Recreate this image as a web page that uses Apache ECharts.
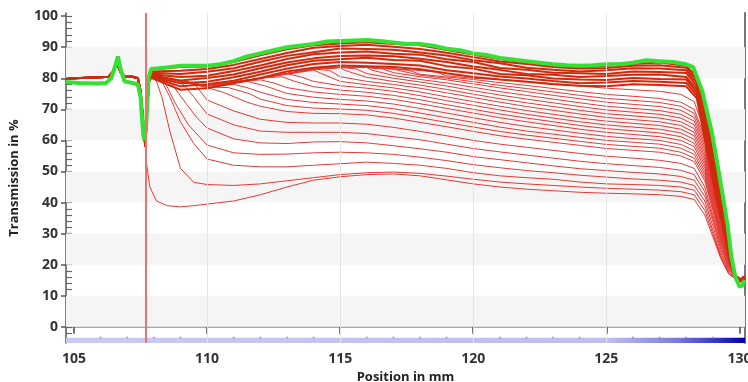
<!DOCTYPE html>
<html><head><meta charset="utf-8">
<script src="https://cdn.jsdelivr.net/npm/echarts@6/dist/echarts.min.js"></script>
<style>html,body{margin:0;padding:0;background:#fff}#c{width:748px;height:382px}</style>
</head><body><div id="c"></div>
<script>
// ---- axis ticks ----
const xTicks = [105,110,115,120,125,130];
const xMinorDots = [106,107,108,109,111,112,113,114,116,117,118,119,121,122,123,124,126,127,128,129];
const xGridLines = [110,115,120,125];
const yTicks = [0,10,20,30,40,50,60,70,80,90,100];
const yMinorTicks = [-4,-2,0,2,4,6,8,10,12,14,16,18,20,22,24,26,28,30,32,34,36,38,40,42,44,46,48,50,52,54,56,58,60,62,64,66,68,70,72,74,76,78,80,82,84,86,88,90,92,94,96,98,100];
const grayBands = [[0,10],[20,30],[40,50],[60,70],[80,90]];
const markerX = 107.68;

// ---- shared lead-in (left part of all red profiles) ----
const leadRed = [[104.7,79.8],[105.0,80.0],[105.5,80.2],[106.0,80.3],[106.3,80.5],[106.45,82],[106.6,85],[106.75,82],[106.9,80.5],[107.2,80.5],[107.4,80.0],[107.5,76],[107.6,66],[107.68,58]];
const leadBack = [[107.75,70],[107.82,79]];

// ---- final profile (green) ----
const greenCurve = [[104.7,78.8],[105.2,78.5],[105.8,78.3],[106.2,78.5],[106.4,80],[106.55,84],[106.65,87],[106.75,83],[106.9,79],[107.2,78.5],[107.4,78],[107.5,74],[107.6,62],[107.65,60],[107.72,66],[107.8,80],[107.9,83],
 [108.5,83.5],[109,84],[110,84],[110.5,84.5],[111,85.5],[111.5,87],[112,88],[112.5,89],[113,90],[114,91],[114.5,91.8],[115,92],[116,92.3],[116.5,92],[117,91.5],[117.5,91],[118,91],[118.5,90.5],[119,89.5],[119.5,89],[120,88],[120.5,87.5],[121,86.5],[121.5,86],[122,85.5],[122.5,85],[123,84.5],[123.5,84.2],[124,84],[124.5,84.2],[125,84.5],[125.5,84.5],[126,85],[126.5,85.8],[127,85.5],[127.5,85.2],[128,84.5],[128.26,83.6],[128.6,76],[128.97,62.4],[129.2,51],[129.4,41],[129.55,33],[129.7,22.5],[129.85,16],[130.0,13],[130.1,13.2],[130.2,15]];

// ---- dense upper band of profiles ----
const bandX = [107.9,109,110,111,112,113,114,115,116,117,118,119,120,121,122,123,124,125,126,127,128];
const band1 = [82.8,83.6,83.8,85.2,87.4,89.3,90.6,91.2,91.6,91.0,90.6,89.1,87.6,86.2,85.1,84.2,83.6,84.0,84.6,85.1,84.0];
const band2 = [82.2,82.4,83.0,84.3,86.2,88.1,89.8,90.4,90.8,90.1,89.4,88.2,86.8,85.4,84.6,83.6,83.1,83.3,84.0,84.2,83.4];
const band3 = [81.8,81.4,82.1,83.2,85.3,87.2,88.4,89.6,89.4,89.2,88.3,87.3,85.8,84.8,83.4,82.7,82.2,82.6,83.2,83.1,82.6];
const band4 = [81.3,80.4,80.8,82.3,84.1,86.2,87.7,88.3,88.6,87.9,87.6,86.1,85.2,83.3,82.7,81.8,81.6,81.4,82.2,82.0,81.7];
const band5 = [81.0,79.3,80.1,81.2,83.2,85.1,86.4,87.2,87.3,87.1,86.3,85.2,83.8,82.7,81.4,81.1,80.4,80.7,81.1,81.2,80.4];
const band6 = [80.6,78.4,78.9,80.3,82.1,84.2,85.6,86.1,86.6,85.9,85.6,83.9,83.1,81.4,81.0,79.9,79.6,79.4,80.1,79.8,79.6];
const band7 = [80.4,77.4,78.1,79.2,81.2,83.1,84.6,85.2,85.0,84.6,84.1,82.6,81.6,80.6,79.9,79.1,78.4,78.6,79.1,78.9,78.5];
const band8 = [80.1,76.3,76.8,78.4,80.1,82.2,83.4,84.1,83.9,83.6,82.9,81.6,80.4,79.6,78.9,78.1,77.6,77.4,78.1,77.8,77.4];
const dropX = [128.4,128.8,129.1,129.4,129.65,129.85,130.05,130.2];
const bandDrop1 = [80.5,66.5,53,38.5,24.5,16.5,14.5,15.5];
const bandDrop2 = [79.5,65,51.5,37.5,23.5,16.3,14.6,15.6];
const bandDrop3 = [78.5,63.5,50,36.5,23,16.2,14.8,15.8];
const bandDrop4 = [77.5,62,48.5,35.5,22.5,16.1,14.9,15.9];
const bandDrop5 = [76.5,60.5,47,34.5,22,16,15,16];
const bandDrop6 = [75.5,59,45.5,33.5,21.5,16,15.1,16.1];
const bandDrop7 = [74.5,57.5,44,32.5,21,15.9,15.2,16.2];
const bandDrop8 = [73.5,56,42.5,31.5,20.5,15.9,15.3,16.3];

// ---- sedimenting profiles (thin red) ----
const drop1 = [[107.72,53],[107.85,45],[108.1,40.5],[108.5,39],[109,38.6],[109.5,39],[110,39.5],[111,40.5],[112,42.5],[113,45],[114,47.2],[115,48.3],[116,49],[117,49.2],[118,48.6],[119,47.3],[120,46],[121,45],[122,44.3],[123,43.8],[124,43.3],[125,43],[126,42.8],[127,42.5],[127.8,42],[128.3,41],[128.7,36],[129,29],[129.3,22],[129.6,17],[129.85,15.5],[130.05,15.5],[130.2,16.5]];
const drop2 = [[107.9,81],[108.1,79],[108.3,74],[108.6,63],[109,51],[109.5,46.5],[110,45.8],[111,45.5],[112,46],[113,47],[114,48],[115,49],[116,49.6],[117,49.8],[118,49.4],[119,48.5],[120,47.5],[121,46.6],[122,46],[123,45.5],[124,45],[125,44.6],[126,44.3],[127,44],[127.8,43.5],[128.3,42.5],[128.7,37.5],[129,30],[129.3,22.5],[129.6,17],[129.85,15.5],[130.05,15.5],[130.2,16.5]];
const drop3 = [[107.9,81],[108.3,79],[108.6,74],[109,66],[109.5,59],[110,54],[111,52],[112,51.5],[113,51.5],[114,52],[115,52.5],[116,53],[117,52.6],[118,52],[119,51],[120,49.6],[121,48.6],[122,48],[123,47.5],[124,46.6],[125,46],[126,45.8],[127,45.5],[127.8,45],[128.3,44],[128.7,39],[129,31],[129.3,23],[129.6,17.5],[129.85,15.5],[130.05,15.5],[130.2,16.5]];
const drop4 = [[107.9,81],[108.4,79],[108.8,72],[109.3,65],[110,58.5],[111,56],[112,55.5],[113,55.6],[114,56],[115,56.2],[116,56],[117,55.5],[118,54.6],[119,53.5],[120,52.2],[121,51.2],[122,50.3],[123,49.6],[124,48.8],[125,48.2],[126,47.6],[127,47.2],[127.8,46.6],[128.3,45.5],[128.7,40.5],[129,32.5],[129.3,24],[129.6,18],[129.85,15.6],[130.05,15.5],[130.2,16.5]];
const drop5 = [[107.9,81],[108.6,79],[109.2,72],[109.6,67.5],[110,64],[111,60.5],[112,59.2],[113,59],[114,59.5],[115,59.6],[116,59.2],[117,58.3],[118,57.3],[119,56.2],[120,54.8],[121,53.8],[122,52.8],[123,51.8],[124,50.9],[125,50.3],[126,49.7],[127,49.2],[127.8,48.4],[128.3,47.2],[128.7,42],[129,34],[129.3,25],[129.6,18.5],[129.85,15.7],[130.05,15.5],[130.2,16.5]];
const drop6 = [[107.9,81],[109,79],[109.5,74],[110,68.5],[111,65],[112,63],[113,62.6],[114,62.6],[115,62.6],[116,62.2],[117,61.2],[118,60.2],[119,58.8],[120,57.4],[121,56.3],[122,55.3],[123,54.3],[124,53.3],[125,52.5],[126,51.9],[127,51.3],[127.8,50.4],[128.3,49],[128.7,43.5],[129,35],[129.3,26],[129.6,19],[129.85,15.8],[130.05,15.5],[130.2,16.5]];
const drop7 = [[107.9,81],[109.5,78.5],[110,73],[111,69.5],[112,66.8],[113,65.8],[114,65.6],[115,65.6],[116,65.2],[117,64.2],[118,62.9],[119,61.5],[120,60],[121,58.8],[122,57.8],[123,56.8],[124,55.8],[125,54.9],[126,54.3],[127,53.6],[127.8,52.6],[128.3,51],[128.7,45],[129,36],[129.3,26.5],[129.6,19.5],[129.85,16],[130.05,15.5],[130.2,16.5]];
const drop8 = [[107.9,81],[110,77],[110.6,75.5],[111.5,72.3],[112,71],[113,69.3],[114,68.7],[115,68.6],[116,68.2],[117,67.2],[118,65.8],[119,64.4],[120,62.9],[121,61.5],[122,60.4],[123,59.4],[124,58.4],[125,57.4],[126,56.8],[127,56.2],[127.8,55],[128.3,53.2],[128.7,47],[129,37.5],[129.3,27.5],[129.6,20],[129.85,16],[130.05,15.5],[130.2,16.5]];
const drop8b = [[107.9,81],[110,77.2],[110.8,77],[111.6,75],[112,73.3],[113,71.2],[114,70.4],[115,70.1],[116,69.7],[117,68.7],[118,67.3],[119,65.8],[120,64.3],[121,62.9],[122,61.7],[123,60.7],[124,59.7],[125,58.7],[126,58.1],[127,57.5],[127.8,56.2],[128.3,54.3],[128.7,48],[129,38.2],[129.3,28],[129.6,20.2],[129.85,16],[130.05,15.5],[130.2,16.5]];
const drop9 = [[107.9,81],[110,77.5],[111,78],[111.5,77],[112,75.5],[113,73.2],[114,72.2],[115,71.7],[116,71.2],[117,70.2],[118,68.8],[119,67.3],[120,65.8],[121,64.3],[122,63],[123,62],[124,61],[125,60],[126,59.4],[127,58.8],[127.8,57.5],[128.3,55.5],[128.7,49],[129,39],[129.3,28.5],[129.6,20.5],[129.85,16],[130.05,15.5],[130.2,16.5]];
const drop9b = [[107.9,81],[110,77.5],[111.5,79],[112.2,77.5],[113,75.1],[114,73.9],[115,73.2],[116,72.7],[117,71.7],[118,70.3],[119,68.8],[120,67.3],[121,65.8],[122,64.5],[123,63.4],[124,62.3],[125,61.3],[126,60.6],[127,60],[127.8,58.7],[128.3,56.7],[128.7,50],[129,39.7],[129.3,29],[129.6,20.7],[129.85,16.1],[130.05,15.5],[130.2,16.5]];
const drop10 = [[107.9,81],[110,77.5],[111,78.5],[112,79.5],[112.5,78.5],[113,77],[114,75.6],[115,74.8],[116,74.2],[117,73.2],[118,71.8],[119,70.3],[120,68.8],[121,67.3],[122,66],[123,64.8],[124,63.6],[125,62.6],[126,61.9],[127,61.2],[127.8,60],[128.3,58],[128.7,51],[129,40.5],[129.3,29.5],[129.6,21],[129.85,16.2],[130.05,15.5],[130.2,16.5]];
const drop10b = [[107.9,81],[110,77.5],[112,80],[112.8,80.5],[113.3,79],[114,77.3],[115,76.2],[116,75.5],[117,74.5],[118,73.1],[119,71.5],[120,70],[121,68.5],[122,67.2],[123,66],[124,64.8],[125,63.8],[126,63.1],[127,62.4],[127.8,61.2],[128.3,59.1],[128.7,52],[129,41.2],[129.3,30],[129.6,21.2],[129.85,16.2],[130.05,15.5],[130.2,16.5]];
const drop11 = [[107.9,81],[110,77.5],[112,80],[113,81.5],[113.5,80.5],[114,79],[115,77.6],[116,76.8],[117,75.8],[118,74.4],[119,72.8],[120,71.3],[121,69.8],[122,68.4],[123,67.2],[124,66],[125,65],[126,64.3],[127,63.6],[127.8,62.4],[128.3,60.3],[128.7,53],[129,42],[129.3,30.5],[129.6,21.5],[129.85,16.2],[130.05,15.5],[130.2,16.5]];
const drop11b = [[107.9,81],[110,77.5],[112,80],[114,82.6],[114.3,81.5],[115,79],[116,77.9],[117,76.9],[118,75.6],[119,74],[120,72.5],[121,71],[122,69.6],[123,68.4],[124,67.2],[125,66.2],[126,65.5],[127,64.8],[127.8,63.6],[128.3,61.5],[128.7,54],[129,42.8],[129.3,31],[129.6,21.8],[129.85,16.3],[130.05,15.5],[130.2,16.5]];
const drop12 = [[107.9,81],[110,77.5],[112,80],[114,83],[114.6,82.5],[115,80.5],[116,79],[117,78],[118,76.8],[119,75.3],[120,73.8],[121,72.3],[122,70.9],[123,69.7],[124,68.5],[125,67.4],[126,66.7],[127,66],[127.8,64.8],[128.3,62.6],[128.7,55],[129,43.5],[129.3,31.5],[129.6,22],[129.85,16.3],[130.05,15.5],[130.2,16.5]];
const drop12b = [[107.9,81],[110,77.5],[112,80],[114,83],[115,83.4],[115.2,82.5],[116,80.3],[117,79],[118,77.8],[119,76.4],[120,74.9],[121,73.4],[122,72.1],[123,70.9],[124,69.7],[125,68.6],[126,67.9],[127,67.2],[127.8,66],[128.3,63.8],[128.7,56],[129,44.2],[129.3,32],[129.6,22.2],[129.85,16.4],[130.05,15.5],[130.2,16.5]];
const drop13 = [[107.9,81],[110,77.5],[112,80],[114,83],[115,83.5],[115.6,83],[116,81.5],[117,80],[118,78.8],[119,77.5],[120,76],[121,74.6],[122,73.3],[123,72.1],[124,70.9],[125,69.8],[126,69.1],[127,68.4],[127.8,67.2],[128.3,65],[128.7,57],[129,45],[129.3,32.5],[129.6,22.5],[129.85,16.4],[130.05,15.5],[130.2,16.5]];
const drop13b = [[107.9,81],[110,77.5],[112,80],[114,83],[115,83.5],[116,83.5],[116.2,82.6],[117,80.9],[118,79.6],[119,78.5],[120,77.1],[121,75.7],[122,74.5],[123,73.3],[124,72.1],[125,71],[126,70.3],[127,69.6],[127.8,68.4],[128.3,66.2],[128.7,58],[129,45.7],[129.3,33],[129.6,22.7],[129.85,16.4],[130.05,15.5],[130.2,16.5]];
const drop14 = [[107.9,81],[110,77.5],[112,80],[114,83],[115,83.5],[116,83.5],[116.6,83],[117,81.8],[118,80.5],[119,79.5],[120,78.2],[121,76.9],[122,75.7],[123,74.5],[124,73.4],[125,72.3],[126,71.6],[127,70.9],[127.8,69.7],[128.3,67.4],[128.7,59],[129,46.5],[129.3,33.5],[129.6,23],[129.85,16.5],[130.05,15.5],[130.2,16.5]];
const drop14b = [[107.9,81],[110,77.5],[112,80],[114,83],[115,83.5],[116,83.5],[117,83],[117.2,82.5],[118,81],[119,80],[120,78.9],[121,77.7],[122,76.7],[123,75.6],[124,74.5],[125,73.5],[126,72.9],[127,72.2],[127.8,71],[128.3,68.7],[128.7,60],[129,47.2],[129.3,34],[129.6,23.2],[129.85,16.5],[130.05,15.5],[130.2,16.5]];
const drop15 = [[107.9,81],[110,77.5],[112,80],[114,83],[115,83.5],[116,83.5],[117,83],[117.6,82.5],[118,81.3],[119,80.4],[120,79.6],[121,78.6],[122,77.7],[123,76.7],[124,75.7],[125,74.8],[126,74.2],[127,73.5],[127.8,72.3],[128.3,70],[128.7,61],[129,48],[129.3,34.5],[129.6,23.5],[129.85,16.6],[130.05,15.5],[130.2,16.5]];
const drop16 = [[107.9,81],[110,77.5],[112,80],[114,83],[115,83.5],[116,83.5],[117,83],[118,82.5],[118.6,82],[119,80.8],[120,80],[121,79.6],[122,79],[123,78.3],[124,77.5],[125,76.8],[126,76.3],[127,75.8],[127.8,74.8],[128.3,72.5],[128.7,63],[129,49.5],[129.3,35.5],[129.6,24],[129.85,16.7],[130.05,15.5],[130.2,16.5]];

// ---- build series ----
const zip = (xs, ys) => xs.map((x, i) => [x, ys[i]]);
const bandCurves = [[band1,bandDrop1],[band2,bandDrop2],[band3,bandDrop3],[band4,bandDrop4],[band5,bandDrop5],[band6,bandDrop6],[band7,bandDrop7],[band8,bandDrop8]];
const dropCurves = [drop2,drop3,drop4,drop5,drop6,drop7,drop8,drop8b,drop9,drop9b,drop10,drop10b,drop11,drop11b,drop12,drop12b,drop13,drop13b,drop14,drop14b,drop15,drop16];

const X0 = 104.7, X1 = 130.21, Y0 = -5.2, Y1 = 101;
const series = [];
series.push({
  type: 'line', data: [], silent: true, z: 0,
  markArea: { silent: true, itemStyle: { color: '#f5f5f5' },
    data: grayBands.map(b => [{ yAxis: b[0] }, { yAxis: b[1] }]) },
  markLine: { silent: true, symbol: 'none', label: { show: false },
    lineStyle: { color: '#e4e4e4', width: 1, type: 'solid' },
    data: xGridLines.map(v => ({ xAxis: v })) }
});
const lineBase = { type: 'line', showSymbol: false, silent: true, animation: false, z: 2 };
dropCurves.forEach(d => series.push(Object.assign({}, lineBase, {
  data: leadRed.concat(leadBack, d), lineStyle: { color: '#e53935', width: 1 }
})));
series.push(Object.assign({}, lineBase, { data: leadRed.concat(drop1), lineStyle: { color: '#e53935', width: 1 } }));
bandCurves.forEach(b => series.push(Object.assign({}, lineBase, {
  data: leadRed.concat(leadBack, zip(bandX, b[0]), zip(dropX, b[1])), lineStyle: { color: '#d02a0c', width: 2 }
})));
series.push(Object.assign({}, lineBase, { z: 3, data: greenCurve, lineStyle: { color: '#33e033', width: 4 } }));
series.push({
  type: 'line', data: [], silent: true, z: 4,
  markLine: { silent: true, symbol: 'none', label: { show: false },
    lineStyle: { color: '#f07070', width: 2, type: 'solid' },
    data: [{ xAxis: markerX }] }
});
series.push({
  type: 'line', data: [], silent: true, z: 5,
  markArea: { silent: true,
    itemStyle: { color: { type: 'linear', x: 0, y: 0, x2: 1, y2: 0, colorStops: [
      { offset: 0, color: '#c9c9f1' }, { offset: 0.8, color: '#bdbdee' }, { offset: 0.9, color: '#7a7ae0' }, { offset: 1, color: '#0000b4' }] } },
    data: [[{ xAxis: X0, yAxis: Y0 }, { xAxis: X1, yAxis: -3.5 }]] }
});
series.push({ type: 'scatter', silent: true, z: 6, symbolSize: 2, itemStyle: { color: '#8a8ab8' },
  data: xMinorDots.map(x => [x, -3.4]) });

const labelFont = { fontFamily: 'Open Sans', fontWeight: 'bold', fontSize: 14, color: '#333' };
const titleFont = { fontFamily: 'Open Sans', fontWeight: 'bold', fontSize: 13, color: '#222' };
const chart = echarts.init(document.getElementById('c'));
chart.setOption({
  animation: false,
  grid: { left: 66, top: 13, right: 3, bottom: 39, containLabel: false, outerBoundsMode: 'none' },
  xAxis: [
    { type: 'value', min: X0, max: X1, position: 'bottom',
      axisLine: { show: false },
      axisTick: { show: true, customValues: xTicks, length: 7, inside: false, lineStyle: { color: '#444', width: 1.5 } },
      axisLabel: Object.assign({ customValues: xTicks, margin: 9 }, labelFont),
      splitLine: { show: false },
      name: 'Position in mm', nameLocation: 'middle', nameGap: 28, nameTextStyle: titleFont },
    { type: 'value', min: X0, max: X1, position: 'top',
      axisLine: { show: true, lineStyle: { color: '#8a8a8a', width: 1.5 } },
      axisTick: { show: false }, axisLabel: { show: false }, splitLine: { show: false } }
  ],
  yAxis: [
    { type: 'value', min: Y0, max: Y1, position: 'left',
      axisLine: { show: true, lineStyle: { color: '#555', width: 1.5 } },
      axisTick: { show: true, customValues: yTicks, length: 5, inside: false, lineStyle: { color: '#555', width: 1.5 } },
      axisLabel: Object.assign({ customValues: yTicks, margin: 8 }, labelFont),
      splitLine: { show: false },
      name: 'Transmission in %', nameLocation: 'middle', nameGap: 45, nameRotate: 90, nameTextStyle: titleFont },
    { type: 'value', min: Y0, max: Y1, position: 'left',
      axisLine: { show: false },
      axisTick: { show: true, customValues: yMinorTicks, length: 6, inside: true, lineStyle: { color: '#666', width: 1.2 } },
      axisLabel: { show: false }, splitLine: { show: false } },
    { type: 'value', min: Y0, max: Y1, position: 'right',
      axisLine: { show: true, lineStyle: { color: '#777', width: 2 } },
      axisTick: { show: false }, axisLabel: { show: false }, splitLine: { show: false } }
  ],
  series: series
});
</script></body></html>
